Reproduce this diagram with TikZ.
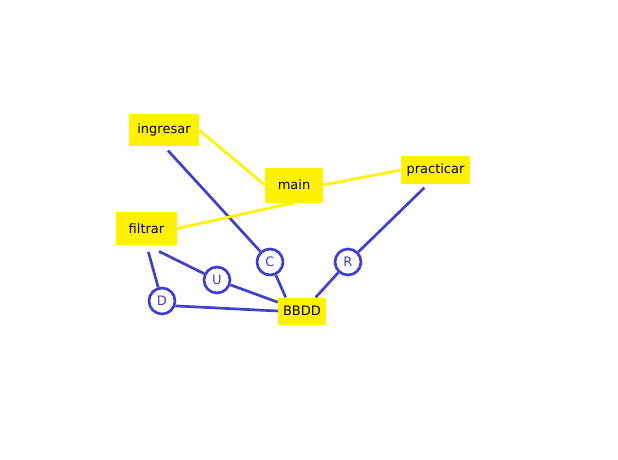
\documentclass[tikz,border=0pt]{standalone}
\usepackage{fontspec}
\setmainfont{DejaVu Sans}
\usepackage{tikz}
\usetikzlibrary{calc}
\definecolor{modyellow}{RGB}{255,242,0}
\definecolor{opblue}{RGB}{64,64,204}

\begin{document}
\begin{tikzpicture}[x=1pt,y=-1pt]
      \tikzset{module/.style={fill=modyellow,
          inner sep=0pt,
          minimum width=#1,
          font=\fontsize{13}{15}\selectfont},
        op/.style={draw=opblue,
          line width=2.7pt,
          fill=white,
          text=opblue,
          circle,
          inner sep=0pt,
          minimum size=26pt,
          font=\fontsize{13}{15}\selectfont},
        uses/.style={draw=opblue,line width=2.7pt},
        calls/.style={draw=modyellow,line width=2.7pt}
      }
      \useasboundingbox (0,0) rectangle (618,459);
      \node [module=70pt,minimum height=32pt] (ingresar) at (164,130) {ingresar};
      \node [module=58pt,minimum height=35pt] (main) at (294,185) {main};
      \node [module=61pt,minimum height=33pt] (filtrar) at (146.5,228.5) {filtrar};
      \node [module=69pt,minimum height=28pt] (practicar) at (435.5,170) {practicar};
      \node [module=48pt,minimum height=27pt] (BBDD) at (302,311) {BBDD};
      \node [op] (C) at (270,262) {C};
      \node [op] (U) at (217,280) {U};
      \node [op] (D) at (162,301) {D};
      \node [op] (R) at (348,262) {R};
      \draw [uses,shorten <=6pt] (ingresar.south)--(C);
      \draw [uses] (C)--(BBDD.140);
      \draw [uses,shorten <=14pt] (filtrar.south)--(U);
      \draw [uses,shorten <=7pt] (filtrar.south)--(D);
      \draw [uses] (U)--(BBDD.160);
      \draw [uses] (D.-20)--(BBDD.west);
      \draw [uses,shorten <=5pt] (practicar.242)--(R);
      \draw [uses] (R)--(BBDD.45);
      \draw [calls] (ingresar.east)--(main.west);
      \draw [calls] (filtrar.east)--(main.south);
      \draw [calls] (main.east)--(practicar.west);
    \end{tikzpicture}
\end{document}
